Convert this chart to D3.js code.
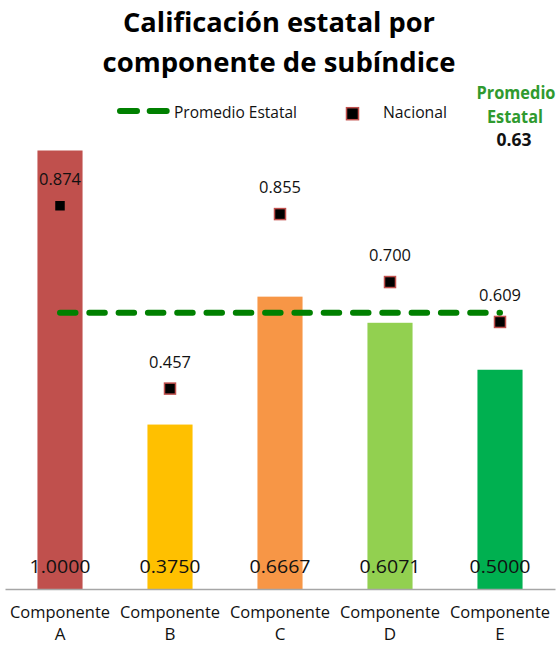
<!DOCTYPE html>
<html>
<head>
<meta charset="utf-8">
<script src="https://cdn.jsdelivr.net/npm/d3@7/dist/d3.min.js"></script>
<style>
  body { margin: 0; background: #fff; }
  text { font-family: "Open Sans", "Noto Sans", sans-serif; fill: #111; }
</style>
</head>
<body>
<svg id="chart" width="558" height="645"></svg>
<script>
'use strict';

// data
var categories = ['Componente A', 'Componente B', 'Componente C', 'Componente D', 'Componente E'];
var estatal = [1.0, 0.375, 0.6667, 0.6071, 0.5];
var nacional = [0.874, 0.457, 0.855, 0.700, 0.609];
var promedioEstatal = 0.63;
var barColors = ['#c0504d', '#ffc000', '#f79646', '#92d050', '#00b050'];
var titleLines = ['Calificación estatal por', 'componente de subíndice'];

var svg = d3.select('#chart');

var x = d3.scaleBand()
    .domain(categories)
    .range([5, 555])
    .paddingInner(0.59)
    .paddingOuter(0.295);

var y = d3.scaleLinear()
    .domain([0, 1])
    .range([589, 150.5]);

var fmt4 = d3.format('.4f');
var fmt3 = d3.format('.3f');

// squeeze text to the width the reference uses (Calibri is narrow)
function fit(sel, w) {
    sel.attr('textLength', w).attr('lengthAdjust', 'spacingAndGlyphs');
    return sel;
}

function cx(d) { return x(d) + x.bandwidth() / 2; }

// bars
svg.append('g').selectAll('rect')
    .data(categories)
    .join('rect')
    .attr('x', function(d) { return x(d); })
    .attr('width', x.bandwidth())
    .attr('y', function(d, i) { return y(estatal[i]); })
    .attr('height', function(d, i) { return y(0) - y(estatal[i]); })
    .attr('fill', function(d, i) { return barColors[i]; });

// value labels, inside base
svg.append('g').selectAll('text')
    .data(categories)
    .join('text')
    .attr('x', cx)
    .attr('y', y(0) - 22)
    .attr('dy', '0.35em')
    .attr('text-anchor', 'middle')
    .style('font-size', '18px')
    .text(function(d, i) { return fmt4(estatal[i]); })
    .call(fit, 61);

// promedio estatal line
svg.append('line')
    .attr('x1', cx(categories[0]))
    .attr('x2', cx(categories[categories.length - 1]))
    .attr('y1', y(promedioEstatal))
    .attr('y2', y(promedioEstatal))
    .attr('stroke', '#008000')
    .attr('stroke-width', 6)
    .attr('stroke-linecap', 'round')
    .attr('stroke-dasharray', '15.5,13.8');

// nacional markers
var ms = 11;
svg.append('g').selectAll('rect')
    .data(categories)
    .join('rect')
    .attr('x', function(d) { return cx(d) - ms / 2; })
    .attr('y', function(d, i) { return y(nacional[i]) - ms / 2; })
    .attr('width', ms)
    .attr('height', ms)
    .attr('fill', '#000')
    .attr('stroke', '#c0504d')
    .attr('stroke-width', 1.5);

svg.append('g').selectAll('text')
    .data(categories)
    .join('text')
    .attr('x', cx)
    .attr('y', function(d, i) { return y(nacional[i]) - 27; })
    .attr('dy', '0.35em')
    .attr('text-anchor', 'middle')
    .style('font-size', '17px')
    .text(function(d, i) { return fmt3(nacional[i]); })
    .call(fit, 42);

// x axis
var axis = svg.append('g')
    .attr('transform', 'translate(0,' + y(0) + ')')
    .call(d3.axisBottom(x).tickSize(0).tickSizeOuter(0));

axis.select('.domain').attr('stroke', '#a6a6a6').attr('stroke-width', 1.5);

axis.selectAll('.tick text').each(function(d) {
    var t = d3.select(this).text(null).attr('y', null).attr('dy', null)
        .attr('fill', null).style('font-size', '17px').style('font-family', null);
    var parts = d.split(' ');
    t.append('tspan').attr('x', 0).attr('y', 29).text(parts[0]).call(fit, 100);
    t.append('tspan').attr('x', 0).attr('y', 51).text(parts[1]);
});

// legend
var lg = svg.append('g');
lg.append('line')
    .attr('x1', 120).attr('x2', 167)
    .attr('y1', 111).attr('y2', 111)
    .attr('stroke', '#008000')
    .attr('stroke-width', 6)
    .attr('stroke-linecap', 'round')
    .attr('stroke-dasharray', '17,12.7');
lg.append('text')
    .attr('x', 174).attr('y', 112).attr('dy', '0.35em')
    .style('font-size', '16px')
    .text('Promedio Estatal')
    .call(fit, 123);
lg.append('rect')
    .attr('x', 352.5 - 6).attr('y', 113.7 - 6)
    .attr('width', 12).attr('height', 12)
    .attr('fill', '#000')
    .attr('stroke', '#c0504d')
    .attr('stroke-width', 1.5);
lg.append('text')
    .attr('x', 383).attr('y', 112).attr('dy', '0.35em')
    .style('font-size', '16px')
    .text('Nacional')
    .call(fit, 64);

// title
svg.append('g').selectAll('text')
    .data(titleLines)
    .join('text')
    .attr('x', 279)
    .attr('y', function(d, i) { return 32 + i * 40; })
    .attr('text-anchor', 'middle')
    .style('font-size', '26px')
    .style('font-weight', 'bold')
    .style('fill', '#000')
    .text(function(d) { return d; })
    .each(function(d, i) { d3.select(this).call(fit, i === 0 ? 312 : 353); });

// promedio estatal value, top right
var pr = svg.append('g').attr('text-anchor', 'middle').style('font-weight', 'bold');
pr.append('text').attr('x', 516).attr('y', 93).attr('dy', '0.35em')
    .style('font-size', '17px').style('fill', '#2f9a2f')
    .text('Promedio').call(fit, 79);
pr.append('text').attr('x', 515).attr('y', 117.5).attr('dy', '0.35em')
    .style('font-size', '17px').style('fill', '#2f9a2f')
    .text('Estatal').call(fit, 56);
pr.append('text').attr('x', 514).attr('y', 140).attr('dy', '0.35em')
    .style('font-size', '17px')
    .text(d3.format('.2f')(promedioEstatal)).call(fit, 35);
</script>
</body>
</html>
